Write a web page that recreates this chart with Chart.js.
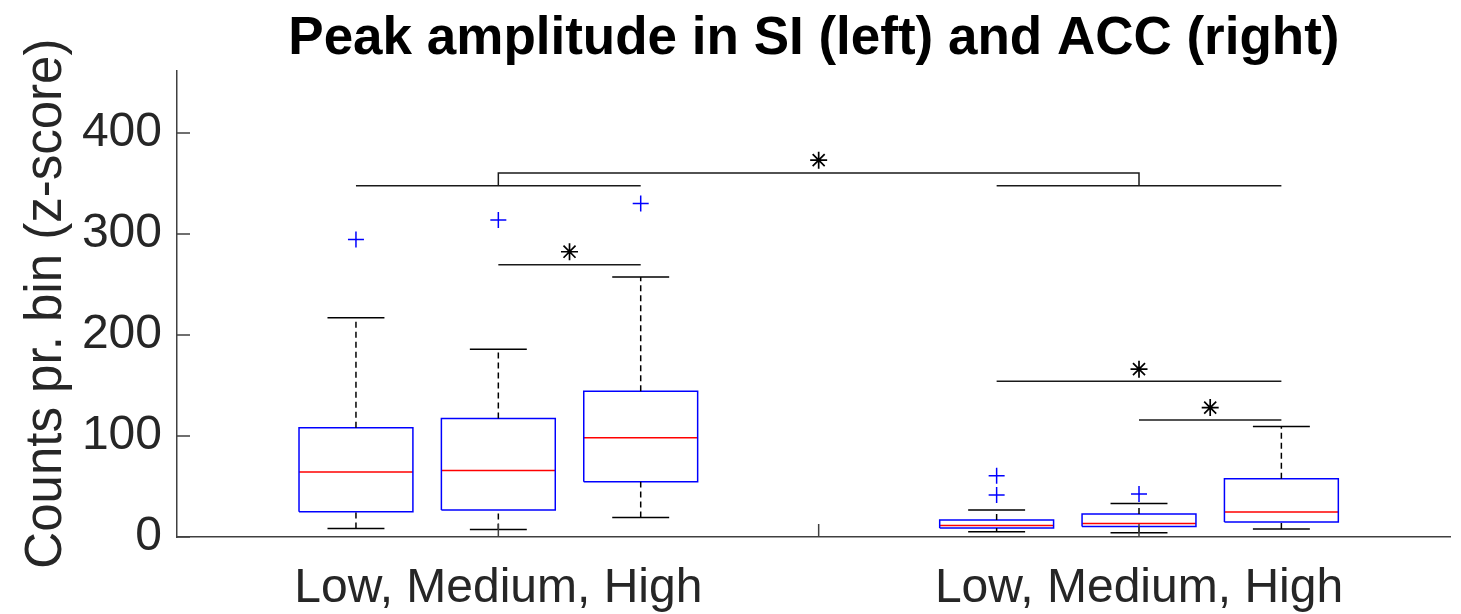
<!DOCTYPE html>
<html>
<head>
<meta charset="utf-8">
<script src="https://cdn.jsdelivr.net/npm/chart.js@4.4.1/dist/chart.umd.min.js"></script>
<style>
    html, body { margin: 0; padding: 0; background: #fff; }
</style>
</head>
<body>
<canvas id="boxChart" width="1461" height="614"></canvas>
<script>
// box positions on the x axis (SI: 1-3, ACC: 5.5-7.5)
const positions = [1, 2, 3, 5.5, 6.5, 7.5];
const q1 =        [25.0, 26.7, 54.7, 8.9, 10.5, 14.8];
const medians =   [64.3, 65.8, 98.2, 11.5, 13.4, 24.7];
const q3 =        [108.1, 117.3, 144.3, 16.8, 22.7, 57.6];
const whiskerLo = [8.5, 7.5, 19.4, 5.2, 4.3, 7.9];
const whiskerHi = [217.1, 185.9, 257.3, 26.7, 33.2, 109.3];

// outliers as [position, value]
const outliers = [[1, 294.6], [2, 313.7], [3, 330.2], [5.5, 60.6], [5.5, 41.5], [6.5, 42.5]];

// significance brackets: [from, to, level]
const brackets = [[1, 3, 347.6], [5.5, 7.5, 347.6], [2, 3, 269.6], [5.5, 7.5, 154.2], [6.5, 7.5, 115.7]];
// connector between the two group brackets
const connector = [[2, 347.6], [2, 360.4], [6.5, 360.4], [6.5, 347.6]];
const stars = [[4.25, 373], [2.5, 282.4], [6.5, 166.1], [7, 128.1]];

const xTickValues = [2, 4.25, 6.5];
const xTickLabels = ['Low, Medium, High', '', 'Low, Medium, High'];
const yTickValues = [0, 100, 200, 300, 400];

const boxHalf = 0.4;
const capHalf = 0.2;
const axisColor = '#404040';

Chart.defaults.font.family = "'Liberation Sans', Arial, sans-serif";

function lineSet(pts, color, dash) {
    return {
        type: 'line',
        data: pts.map(p => ({ x: p[0], y: p[1] })),
        borderColor: color,
        borderWidth: 1.5,
        borderDash: dash || [],
        pointRadius: 0,
        fill: false,
        tension: 0,
        showLine: true
    };
}

const datasets = [];
positions.forEach((p, i) => {
    const l = p - boxHalf, r = p + boxHalf;
    // whiskers
    datasets.push(lineSet([[p, q3[i]], [p, whiskerHi[i]]], '#000', [6, 4]));
    datasets.push(lineSet([[p, whiskerLo[i]], [p, q1[i]]], '#000', [6, 4]));
    datasets.push(lineSet([[p - capHalf, whiskerHi[i]], [p + capHalf, whiskerHi[i]]], '#000'));
    datasets.push(lineSet([[p - capHalf, whiskerLo[i]], [p + capHalf, whiskerLo[i]]], '#000'));
    // box + median
    datasets.push(lineSet([[l, q1[i]], [r, q1[i]], [r, q3[i]], [l, q3[i]], [l, q1[i]]], '#0000ff'));
    datasets.push(lineSet([[l, medians[i]], [r, medians[i]]], '#ff0000'));
});

brackets.forEach(b => {
    datasets.push(lineSet([[b[0], b[2]], [b[1], b[2]]], '#1a1a1a'));
});
datasets.push(lineSet(connector, '#1a1a1a'));

datasets.push({
    type: 'scatter',
    data: outliers.map(o => ({ x: o[0], y: o[1] })),
    pointStyle: 'cross',
    pointRadius: 8,
    borderColor: '#0000ff',
    borderWidth: 1.5,
    showLine: false
});
datasets.push({
    type: 'scatter',
    data: stars.map(s => ({ x: s[0], y: s[1] })),
    pointStyle: 'star',
    pointRadius: 8.5,
    borderColor: '#000',
    borderWidth: 1.7,
    showLine: false
});

// MATLAB style ticks pointing into the plot
const inwardTicks = {
    id: 'inwardTicks',
    afterDraw(chart) {
        const { ctx, chartArea } = chart;
        const x = chart.scales.x, y = chart.scales.y;
        ctx.save();
        ctx.strokeStyle = axisColor;
        ctx.lineWidth = 1.5;
        ctx.beginPath();
        y.ticks.forEach(t => {
            const py = y.getPixelForValue(t.value);
            ctx.moveTo(chartArea.left, py);
            ctx.lineTo(chartArea.left + 13, py);
        });
        x.ticks.forEach(t => {
            const px = x.getPixelForValue(t.value);
            ctx.moveTo(px, chartArea.bottom);
            ctx.lineTo(px, chartArea.bottom - 13);
        });
        ctx.stroke();
        ctx.restore();
    }
};

new Chart(document.getElementById('boxChart'), {
    type: 'scatter',
    data: { datasets: datasets },
    options: {
        responsive: false,
        animation: false,
        devicePixelRatio: 1,
        layout: { padding: { left: 0, right: 6, top: 0, bottom: 0 } },
        plugins: {
            legend: { display: false },
            tooltip: { enabled: false },
            title: {
                display: true,
                text: 'Peak amplitude in SI (left) and ACC (right)',
                fullSize: false,
                color: '#000',
                font: { size: 53, weight: 'bold', lineHeight: 1.1 },
                padding: { top: 10, bottom: 2 }
            }
        },
        scales: {
            x: {
                type: 'linear',
                min: -0.257,
                max: 8.69,
                grid: { display: false, drawTicks: false },
                border: { display: true, color: axisColor, width: 1.5 },
                afterBuildTicks: s => { s.ticks = xTickValues.map(v => ({ value: v })); },
                afterFit: s => { s.height = 77; },
                ticks: {
                    autoSkip: false,
                    maxRotation: 0,
                    padding: 23,
                    color: '#262626',
                    font: { size: 48 },
                    callback: v => {
                        const k = xTickValues.indexOf(v);
                        return k < 0 ? '' : xTickLabels[k];
                    }
                }
            },
            y: {
                min: 0,
                max: 462,
                grid: { display: false, drawTicks: false },
                border: { display: true, color: axisColor, width: 1.5 },
                afterBuildTicks: s => { s.ticks = yTickValues.map(v => ({ value: v })); },
                afterFit: s => { s.width = 177; },
                ticks: {
                    padding: 15,
                    color: '#262626',
                    font: { size: 48 }
                },
                title: {
                    display: true,
                    text: 'Counts pr. bin (z-score)',
                    color: '#262626',
                    font: { size: 51 },
                    padding: { top: 16, bottom: 0 }
                }
            }
        }
    },
    plugins: [inwardTicks]
});
</script>
</body>
</html>
